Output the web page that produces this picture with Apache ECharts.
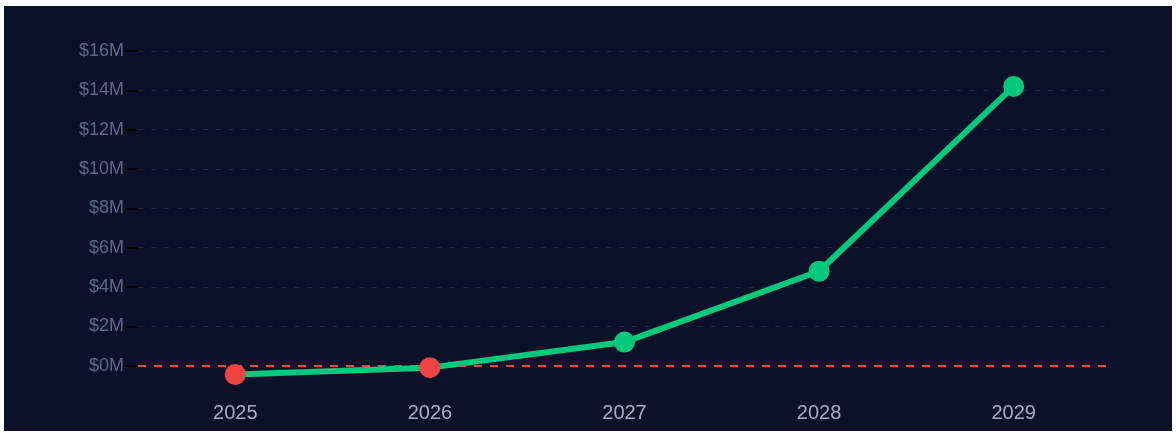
<!DOCTYPE html>
<html>
<head>
<meta charset="utf-8">
<script src="https://cdn.jsdelivr.net/npm/echarts@6/dist/echarts.min.js"></script>
<style>
  html, body { margin: 0; padding: 0; background: #ffffff; width: 1176px; height: 433px; overflow: hidden; }
  #chart { position: absolute; left: 4px; top: 6px; width: 1168px; height: 425px; background: #0b1129; }
</style>
</head>
<body>
<div id="chart"></div>
<script>
const years = ['2025', '2026', '2027', '2028', '2029'];
const cumulativeValues = [-0.45, -0.1, 1.2, 4.8, 14.2]; // $M
const yTickValues = [0, 2, 4, 6, 8, 10, 12, 14, 16];

const GREEN = '#00c97b';
const RED = '#ef4444';

const chart = echarts.init(document.getElementById('chart'), null, { renderer: 'canvas' });
chart.setOption({
  backgroundColor: '#0b1129',
  animation: false,
  grid: { left: 134, right: 61, top: 45, bottom: 26, containLabel: false },
  xAxis: {
    type: 'category',
    data: years,
    boundaryGap: true,
    axisLine: { show: false },
    axisTick: { show: false },
    splitLine: { show: false },
    axisLabel: {
      color: '#a3aec2',
      fontSize: 20,
      fontFamily: 'Liberation Sans, Arial, sans-serif',
      margin: -2
    }
  },
  yAxis: {
    type: 'value',
    min: -2,
    max: 16,
    interval: 2,
    axisLine: { show: false },
    axisTick: {
      show: true,
      length: 13,
      customValues: yTickValues,
      lineStyle: { color: '#000000', width: 2 }
    },
    axisLabel: {
      color: '#5d6a84',
      fontSize: 18,
      fontFamily: 'Liberation Sans, Arial, sans-serif',
      margin: 14,
      customValues: yTickValues,
      formatter: v => '$' + v + 'M'
    },
    splitLine: {
      show: true,
      lineStyle: { color: ['rgba(0,0,0,0)', '#1b2440', '#1b2440', '#1b2440', '#1b2440', '#1b2440', '#1b2440', '#1b2440', '#1b2440', '#1b2440'], type: [5, 8], width: 1 }
    }
  },
  series: [{
    type: 'line',
    data: cumulativeValues.map(v => ({
      value: v,
      itemStyle: { color: v < 0 ? RED : GREEN }
    })),
    symbol: 'circle',
    symbolSize: 21,
    lineStyle: { color: GREEN, width: 6 },
    itemStyle: { color: GREEN, borderWidth: 0 },
    z: 3,
    markLine: {
      silent: true,
      symbol: 'none',
      label: { show: false },
      lineStyle: { color: RED, type: [8, 8], width: 2, opacity: 1 },
      data: [{ yAxis: 0 }],
      z: 2
    }
  }]
});
</script>
</body>
</html>
